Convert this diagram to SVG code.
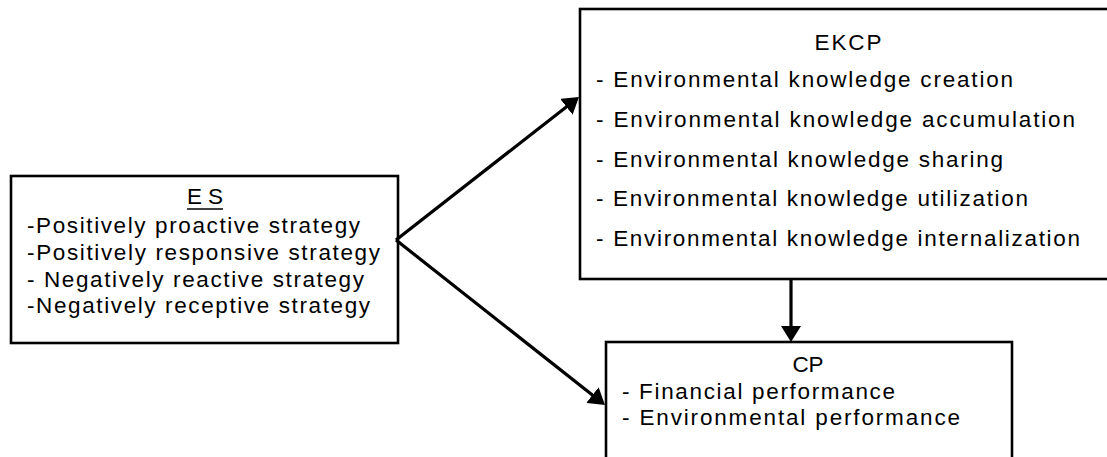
<svg xmlns="http://www.w3.org/2000/svg" width="1107" height="457" viewBox="0 0 1107 457">
<style>
.box{fill:#fff;stroke:#000;stroke-width:2.6}
.t{font-family:"Liberation Sans",Arial,sans-serif;font-size:22.5px;fill:#000}
.c{text-anchor:middle}
.conn{stroke:#000;stroke-width:3.2;fill:none}
</style>
<defs>
<marker id="ah" markerUnits="userSpaceOnUse" viewBox="0 0 16 20" refX="8" refY="10" markerWidth="16" markerHeight="20" orient="auto">
<path d="M0,0 L16,10 L0,20 z" fill="#000"/>
</marker>
</defs>
<g id="ES">
<rect class="box" x="11" y="176" width="387" height="167"/>
<text class="t c" x="205" y="204" textLength="36" lengthAdjust="spacing">ES</text>
<line x1="187" y1="209" x2="223" y2="209" stroke="#000" stroke-width="1.6"/>
<text class="t" x="27" y="233" textLength="333" lengthAdjust="spacing">-Positively proactive strategy</text>
<text class="t" x="27" y="260" textLength="353" lengthAdjust="spacing">-Positively responsive strategy</text>
<text class="t" x="27" y="287" textLength="337" lengthAdjust="spacing">- Negatively reactive strategy</text>
<text class="t" x="27" y="313" textLength="343" lengthAdjust="spacing">-Negatively receptive strategy</text>
</g>
<g id="EKCP">
<rect class="box" x="580" y="9" width="540" height="270"/>
<text class="t c" x="848" y="50" textLength="67" lengthAdjust="spacing">EKCP</text>
<text class="t" x="596" y="87" textLength="417" lengthAdjust="spacing">- Environmental knowledge creation</text>
<text class="t" x="596" y="127" textLength="479" lengthAdjust="spacing">- Environmental knowledge accumulation</text>
<text class="t" x="596" y="167" textLength="407" lengthAdjust="spacing">- Environmental knowledge sharing</text>
<text class="t" x="596" y="206" textLength="432" lengthAdjust="spacing">- Environmental knowledge utilization</text>
<text class="t" x="596" y="246" textLength="484" lengthAdjust="spacing">- Environmental knowledge internalization</text>
</g>
<g id="CP">
<rect class="box" x="606" y="342" width="406" height="130"/>
<text class="t c" x="808" y="372" textLength="31" lengthAdjust="spacing">CP</text>
<text class="t" x="622" y="399" textLength="273" lengthAdjust="spacing">- Financial performance</text>
<text class="t" x="622" y="425" textLength="338" lengthAdjust="spacing">- Environmental performance</text>
</g>
<g id="connectors">
<line class="conn" x1="396" y1="240" x2="572.7" y2="101.9" marker-end="url(#ah)"/>
<line class="conn" x1="396" y1="240" x2="598.7" y2="400" marker-end="url(#ah)"/>
<line class="conn" x1="791" y1="279" x2="791" y2="334" marker-end="url(#ah)"/>
</g>
</svg>
